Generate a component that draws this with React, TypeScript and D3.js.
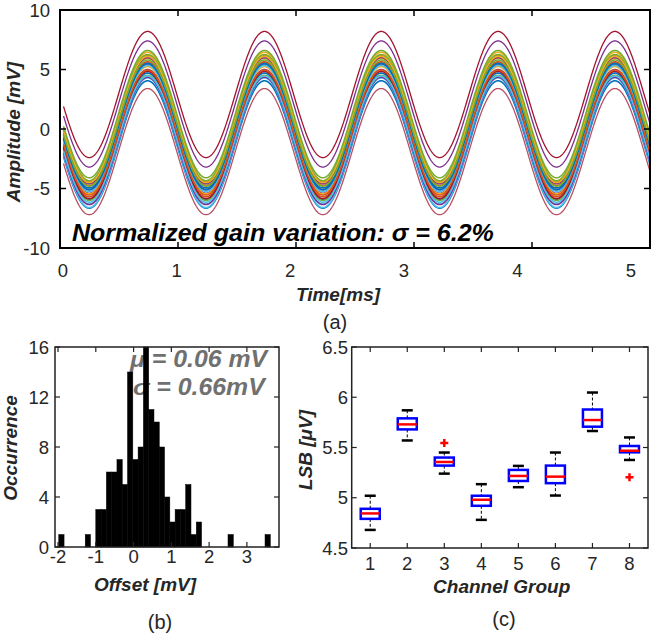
import React from 'react';
import * as d3 from 'd3';

const W = 654;
const H = 636;
const FONT = "'Liberation Sans', Arial, Helvetica, sans-serif";
const TXT = '#262626';

// ---------- Panel (a): waveforms ----------
const timeTicks = [0, 1, 2, 3, 4, 5];
const ampTicks = [-10, -5, 0, 5, 10];
const signalPeriodMs = 0.99;
const tStart = 0.03;
const tEnd = 5.0;
const lineColors = ['#0072BD', '#D95319', '#EDB120', '#7E2F8E', '#77AC30', '#4DBEEE', '#A2142F'];
const channelOffsets = [
  -1.3, 0.85, 1.05, 2.1, 1.25, -1.15, 2.9,
  0.3, -0.4, 0.6, -0.2, 0.95, -0.9, 0.15,
  -0.6, 0.45, -0.1, 0.7, -0.75, 0.05, -0.5,
  0.2, -0.3, 0.8, -1.0, 0.5, -0.85, -1.9,
];
const channelGains = [
  5.35, 5.3, 5.4, 5.3, 5.35, 5.45, 5.3,
  5.25, 5.3, 5.35, 5.2, 5.3, 5.4, 5.25,
  5.3, 5.2, 5.35, 5.3, 5.25, 5.3, 5.35,
  5.3, 5.25, 5.3, 5.35, 5.3, 5.3, 5.3,
];

// ---------- Panel (b): histogram ----------
const histStart = -1.98;
const histBinWidth = 0.14;
const histCounts = [
  1, 0, 0, 0, 0, 1, 0, 3, 3, 6,
  6, 7, 5, 14, 7, 8, 16, 11, 10, 8,
  4, 2, 3, 3, 5, 1, 2, 0, 0, 0,
  0, 0, 1, 0, 0, 0, 0, 0, 0, 1,
];
const offsetTicks = [-2, -1, 0, 1, 2, 3];
const occTicks = [0, 4, 8, 12, 16];

// ---------- Panel (c): box plots ----------
const groups = [1, 2, 3, 4, 5, 6, 7, 8];
const whiskerLow = [4.68, 5.57, 5.24, 4.78, 5.105, 5.022, 5.664, 5.376];
const q1 = [4.79, 5.68, 5.32, 4.92, 5.167, 5.145, 5.707, 5.452];
const medians = [4.844, 5.73, 5.356, 4.98, 5.217, 5.21, 5.773, 5.468];
const q3 = [4.89, 5.79, 5.4, 5.02, 5.277, 5.32, 5.878, 5.515];
const whiskerHigh = [5.02, 5.87, 5.45, 5.135, 5.317, 5.45, 6.047, 5.6];
const outlierGroups = [3, 8];
const outlierValues = [5.545, 5.204];
const lsbTicks = [4.5, 5, 5.5, 6, 6.5];

type TP = {
  x: number; y: number; children: React.ReactNode; size?: number; anchor?: string;
  bold?: boolean; italic?: boolean; fill?: string; rotate?: boolean; sx?: number;
};
const T = ({ x, y, children, size = 18, anchor = 'middle', bold, italic, fill = TXT, rotate, sx = 1 }: TP) => (
  <text
    transform={rotate ? `translate(${x},${y}) rotate(-90) scale(1,${sx})` : `translate(${x},${y}) scale(${sx},1)`}
    textAnchor={anchor as any}
    fontFamily={FONT}
    fontSize={size}
    fontWeight={bold ? 'bold' : 'normal'}
    fontStyle={italic ? 'italic' : 'normal'}
    fill={fill}
  >
    {children}
  </text>
);

export default function App() {
  // Panel (a)
  const aL = 60, aR = 650, aT = 10, aB = 248;
  const xA = d3.scaleLinear().domain([0, 5]).range([aL, aR]);
  const xALabel = d3.scaleLinear().domain([0, 5]).range([63, 631]);
  const yA = d3.scaleLinear().domain([-10, 10]).range([aB, aT]);
  const tSamples = d3.range(tStart, tEnd + 1e-9, 0.005);

  // Panel (b)
  const bL = 55, bR = 279, bT = 347, bB = 547;
  const xB = d3.scaleLinear().domain([-2.08, 3.85]).range([bL, bR]);
  const yB = d3.scaleLinear().domain([0, 16]).range([bB, bT]);

  // Panel (c)
  const cL = 351.7, cR = 648, cT = 347, cB = 548;
  const xC = d3.scaleLinear().domain([0.5, 8.5]).range([cL, cR]);
  const yC = d3.scaleLinear().domain([4.5, 6.5]).range([cB, cT]);
  const boxW = 19;
  const capW = 11;

  return (
    <svg width={W} height={H} style={{ position: 'absolute', left: 0, top: 0, background: '#fff' }}>
      <defs>
        <clipPath id="clipA">
          <rect x={aL} y={aT} width={aR - aL} height={aB - aT} />
        </clipPath>
      </defs>
      <rect width={W} height={H} fill="#fff" />

      {/* ---------- Panel (a) ---------- */}
      <g clipPath="url(#clipA)">
        {channelOffsets.map((off, i) => {
          const g = channelGains[i];
          const l = d3
            .line<number>()
            .x((t) => xA(t))
            .y((t) => yA(off - g * Math.sin((2 * Math.PI * t) / signalPeriodMs)));
          const thin = i === 6 || i === 27 || i === 3;
          return (
            <path
              key={i}
              d={l(tSamples) || ''}
              fill="none"
              stroke={lineColors[i % lineColors.length]}
              strokeWidth={thin ? 1.3 : 1.6}
              opacity={i === 27 ? 0.75 : 1}
            />
          );
        })}
      </g>
      <rect x={aL} y={aT} width={aR - aL} height={aB - aT} fill="none" stroke="#000" strokeWidth={2} />
      {timeTicks.slice(1, -1).map((t) => (
        <g key={t}>
          <line x1={xA(t)} x2={xA(t)} y1={aB} y2={aB - 6} stroke="#000" strokeWidth={1.5} />
          <line x1={xA(t)} x2={xA(t)} y1={aT} y2={aT + 6} stroke="#000" strokeWidth={1.5} />
        </g>
      ))}
      {ampTicks.slice(1, -1).map((v) => (
        <g key={v}>
          <line x1={aL} x2={aL + 6} y1={yA(v)} y2={yA(v)} stroke="#000" strokeWidth={1.5} />
          <line x1={aR} x2={aR - 6} y1={yA(v)} y2={yA(v)} stroke="#000" strokeWidth={1.5} />
        </g>
      ))}
      {timeTicks.map((t) => (
        <T key={t} x={xALabel(t)} y={277} size={18.5}>{t}</T>
      ))}
      {ampTicks.map((v) => (
        <T key={v} x={50} y={yA(v) + 6.5} size={18.5} anchor="end">{v}</T>
      ))}
      <T x={72} y={241} size={23.5} sx={1.065} anchor="start" bold italic fill="#000">
        Normalized gain variation: σ = 6.2%
      </T>
      <T x={338} y={301} size={19} bold italic>Time[ms]</T>
      <T x={20} y={132} size={19} bold italic rotate>Amplitude [mV]</T>
      <T x={335} y={329} size={20}>(a)</T>

      {/* ---------- Panel (b) ---------- */}
      <T x={130} y={366.7} size={23} sx={1.08} anchor="start" bold italic fill="#707070">μ = 0.06 mV</T>
      <T x={133} y={395} size={23} sx={1.08} anchor="start" bold italic fill="#707070">σ = 0.66mV</T>
      {histCounts.map((c, k) =>
        c > 0 ? (
          <rect
            key={k}
            x={xB(histStart + k * histBinWidth)}
            y={yB(c)}
            width={xB(histStart + (k + 1) * histBinWidth) - xB(histStart + k * histBinWidth)}
            height={yB(0) - yB(c)}
            fill="#000"
            stroke="#000"
            strokeWidth={0.5}
          />
        ) : null
      )}
      <rect x={bL} y={bT} width={bR - bL} height={bB - bT} fill="none" stroke="#222" strokeWidth={1.5} />
      {offsetTicks.map((t) => (
        <g key={t}>
          <line x1={xB(t)} x2={xB(t)} y1={bB} y2={bB - 5} stroke="#222" strokeWidth={1.2} />
          <line x1={xB(t)} x2={xB(t)} y1={bT} y2={bT + 5} stroke="#222" strokeWidth={1.2} />
          <T x={xB(t)} y={563} size={18.5}>{t}</T>
        </g>
      ))}
      {occTicks.map((v) => (
        <g key={v}>
          <line x1={bL} x2={bL + 5} y1={yB(v)} y2={yB(v)} stroke="#222" strokeWidth={1.2} />
          <line x1={bR} x2={bR - 5} y1={yB(v)} y2={yB(v)} stroke="#222" strokeWidth={1.2} />
          <T x={49} y={yB(v) + 6.5} size={18.5} anchor="end">{v}</T>
        </g>
      ))}
      <T x={145} y={591} size={19} bold italic>Offset [mV]</T>
      <T x={17} y={448} size={19} bold italic rotate>Occurrence</T>
      <T x={160} y={629} size={20}>(b)</T>

      {/* ---------- Panel (c) ---------- */}
      {groups.map((g, i) => {
        const cx = xC(g);
        return (
          <g key={g}>
            <line x1={cx} x2={cx} y1={yC(whiskerHigh[i])} y2={yC(q3[i])} stroke="#000" strokeWidth={1} strokeDasharray="3,2" />
            <line x1={cx} x2={cx} y1={yC(q1[i])} y2={yC(whiskerLow[i])} stroke="#000" strokeWidth={1} strokeDasharray="3,2" />
            <line x1={cx - capW / 2} x2={cx + capW / 2} y1={yC(whiskerHigh[i])} y2={yC(whiskerHigh[i])} stroke="#000" strokeWidth={2.5} />
            <line x1={cx - capW / 2} x2={cx + capW / 2} y1={yC(whiskerLow[i])} y2={yC(whiskerLow[i])} stroke="#000" strokeWidth={2.5} />
            <rect x={cx - boxW / 2} y={yC(q3[i])} width={boxW} height={yC(q1[i]) - yC(q3[i])} fill="none" stroke="#0000FF" strokeWidth={2.5} />
            <line x1={cx - boxW / 2} x2={cx + boxW / 2} y1={yC(medians[i])} y2={yC(medians[i])} stroke="#FF0000" strokeWidth={2.5} />
          </g>
        );
      })}
      {outlierGroups.map((g, i) => {
        const cx = xC(g);
        const cy = yC(outlierValues[i]);
        return (
          <g key={i} stroke="#FF0000" strokeWidth={2.5}>
            <line x1={cx - 4} x2={cx + 4} y1={cy} y2={cy} />
            <line x1={cx} x2={cx} y1={cy - 4} y2={cy + 4} />
          </g>
        );
      })}
      <rect x={cL} y={cT} width={cR - cL} height={cB - cT} fill="none" stroke="#222" strokeWidth={1.5} />
      {groups.map((g) => (
        <g key={g}>
          <line x1={xC(g)} x2={xC(g)} y1={cB} y2={cB - 5} stroke="#222" strokeWidth={1.2} />
          <line x1={xC(g)} x2={xC(g)} y1={cT} y2={cT + 5} stroke="#222" strokeWidth={1.2} />
          <T x={xC(g)} y={570} size={18.5}>{g}</T>
        </g>
      ))}
      {lsbTicks.map((v) => (
        <g key={v}>
          <line x1={cL} x2={cL + 5} y1={yC(v)} y2={yC(v)} stroke="#222" strokeWidth={1.2} />
          <line x1={cR} x2={cR - 5} y1={yC(v)} y2={yC(v)} stroke="#222" strokeWidth={1.2} />
          <T x={348} y={yC(v) + 6.5} size={18.5} anchor="end">{v}</T>
        </g>
      ))}
      <T x={501.7} y={593} size={19} bold italic>Channel Group</T>
      <T x={312} y={450} size={19} bold italic rotate>LSB [μV]</T>
      <T x={504} y={626} size={20}>(c)</T>
    </svg>
  );
}
